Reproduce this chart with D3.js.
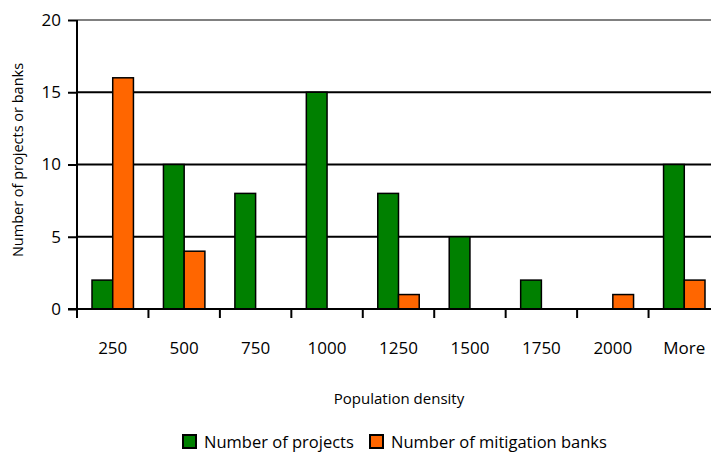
<!DOCTYPE html>
<html><head><meta charset="utf-8">
<script src="https://cdn.jsdelivr.net/npm/d3@7"></script>
<style>body{margin:0;background:#fff;}svg{display:block;font-family:"Open Sans",sans-serif;}</style>
</head><body><svg id="c" width="711" height="454"></svg>
<script>
const categories = ["250","500","750","1000","1250","1500","1750","2000","More"];
const projects = [2,10,8,15,8,5,2,0,10];
const banks = [16,4,0,0,1,0,0,1,2];
const seriesNames = ["Number of projects","Number of mitigation banks"];
const colors = ["#008000","#ff6600"];
const yTicks = [0,5,10,15,20];

(function(){
const svg = d3.select("#c");
const mLeft = 77, mRight = 720, mTop = 20, mBottom = 309;
const x = d3.scaleBand().domain(categories).range([mLeft,mRight]);
const xs = d3.scaleBand().domain([0,1]).range([15, x.bandwidth()-15]);
const y = d3.scaleLinear().domain([0,20]).range([mBottom,mTop]);

// gridlines
svg.append("g").selectAll("line").data(yTicks.filter(d=>d>0)).join("line")
  .attr("x1",mLeft).attr("x2",711).attr("y1",d=>y(d)).attr("y2",d=>y(d))
  .attr("stroke",d=>d===20?"#808080":"#000").attr("stroke-width",2);

// bars
const data = categories.map((c,i)=>({c, v:[projects[i],banks[i]]}));
const g = svg.append("g").selectAll("g").data(data).join("g")
  .attr("transform",d=>`translate(${x(d.c)},0)`);
g.selectAll("rect").data(d=>d.v.map((v,j)=>({v,j})).filter(e=>e.v>0)).join("rect")
  .attr("x",e=>xs(e.j)).attr("width",xs.bandwidth())
  .attr("y",e=>y(e.v)).attr("height",e=>y(0)-y(e.v))
  .attr("fill",e=>colors[e.j]).attr("stroke","#000").attr("stroke-width",1.5);

// y axis
const ya = svg.append("g").attr("transform",`translate(${mLeft},0)`)
  .call(d3.axisLeft(y).tickValues(yTicks).tickSize(9).tickPadding(7));
ya.select(".domain").attr("stroke","#000").attr("stroke-width",2).attr("d",`M0,${mTop}V${mBottom}`);
ya.selectAll(".tick line").attr("stroke-width",2);
ya.selectAll("text").attr("font-size",17).attr("fill","#000").attr("font-family","Open Sans");

// x axis
const xa = svg.append("g").attr("transform",`translate(0,${mBottom})`)
  .call(d3.axisBottom(x).tickSize(0).tickPadding(33));
xa.select(".domain").remove();
xa.selectAll("text").attr("font-size",17).attr("fill","#000").attr("font-family","Open Sans");
svg.append("line").attr("x1",mLeft-9).attr("x2",711).attr("y1",mBottom).attr("y2",mBottom)
  .attr("stroke","#000").attr("stroke-width",2);
svg.append("g").selectAll("line").data(categories.concat(["end"])).join("line")
  .attr("x1",(d,i)=>mLeft+i*x.step()).attr("x2",(d,i)=>mLeft+i*x.step())
  .attr("y1",mBottom).attr("y2",mBottom+9).attr("stroke","#000").attr("stroke-width",2);

// titles
svg.append("text").attr("x",399).attr("y",404).attr("text-anchor","middle")
  .attr("font-size",15).text("Population density");
svg.append("text").attr("transform","translate(23,160) rotate(-90)").attr("text-anchor","middle")
  .attr("font-size",14.5).text("Number of projects or banks");

// legend
const lx = [183,370];
seriesNames.forEach((n,i)=>{
  svg.append("rect").attr("x",lx[i]).attr("y",435).attr("width",13).attr("height",13)
    .attr("fill",colors[i]).attr("stroke","#000").attr("stroke-width",2);
  svg.append("text").attr("x",lx[i]+21).attr("y",448).attr("font-size",16.5).text(n);
});
})();
</script></body></html>
